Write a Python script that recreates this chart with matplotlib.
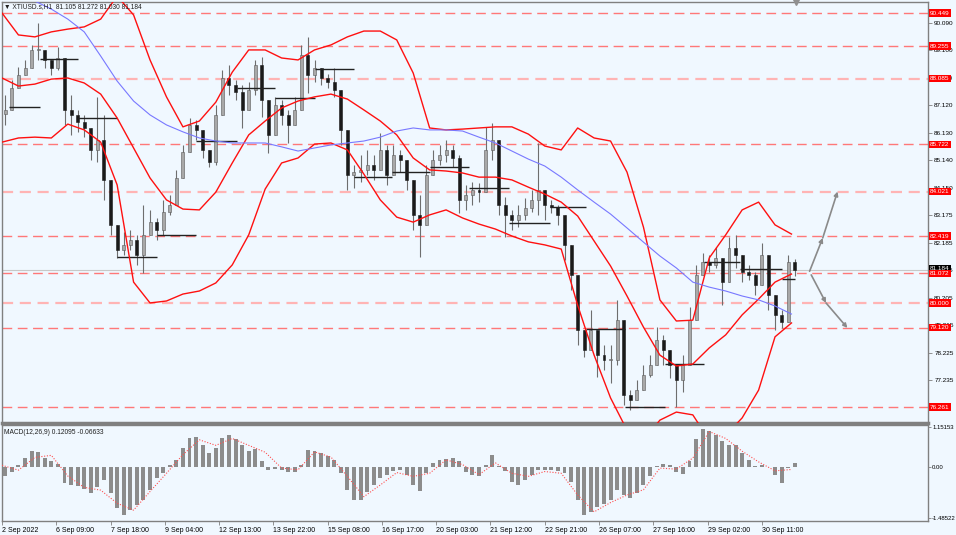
import numpy as np
import matplotlib.pyplot as plt

plt.rcParams['font.family'] = ['Liberation Sans', 'DejaVu Sans']

BG = '#f0f8ff'

# ---- price data (4 x H1 bars per candle) ----
first_open = 86.80
candle_close = [
    86.96, 87.75, 88.22, 88.47, 89.12, 89.12, 88.76, 88.47, 88.83, 86.96,
    86.78, 86.52, 86.31, 85.52, 85.88, 84.44, 82.82, 81.92, 82.10, 82.28,
    81.74, 82.46, 82.92, 82.64, 83.28, 83.54, 84.51, 85.45, 86.42, 86.24,
    85.52, 85.09, 86.78, 88.11, 87.86, 87.61, 86.96, 87.68, 88.58, 87.32,
    86.06, 87.14, 86.78, 86.42, 86.96, 88.94, 88.22, 88.47, 88.11, 87.97,
    87.68, 86.24, 84.62, 84.73, 84.80, 84.98, 84.80, 85.52, 84.62, 85.34,
    85.16, 84.44, 83.18, 82.82, 84.62, 85.16, 85.34, 85.52, 85.23, 83.72,
    83.90, 84.08, 84.01, 85.52, 85.88, 83.54, 83.18, 83.00, 83.18, 83.43,
    83.72, 84.08, 83.54, 83.46, 83.18, 82.10, 81.02, 79.04, 78.32, 79.04,
    78.14, 77.96, 77.96, 79.40, 76.69, 76.52, 76.87, 77.42, 77.78, 78.68,
    78.32, 77.78, 77.24, 77.78, 79.40, 81.02, 81.48, 81.38, 81.63, 80.76,
    81.99, 81.74, 81.12, 81.02, 80.66, 81.74, 80.30, 79.58, 79.33, 81.48,
    81.184,
]
candle_high = [
    87.50, 88.04, 88.51, 88.76, 89.30, 90.09, 89.05, 88.76, 89.23, 87.86,
    87.50, 86.96, 86.78, 86.06, 87.43, 86.78, 83.54, 82.28, 82.56, 82.64,
    82.46, 83.54, 83.36, 83.07, 83.72, 83.90, 84.80, 85.70, 86.67, 86.60,
    86.06, 85.52, 87.14, 88.40, 88.58, 88.04, 87.86, 87.97, 88.76, 88.87,
    87.32, 87.41, 87.32, 86.96, 87.43, 89.30, 89.59, 88.76, 88.40, 88.26,
    88.47, 87.68, 85.88, 84.98, 85.34, 85.52, 85.34, 86.13, 85.70, 85.70,
    85.52, 85.16, 84.44, 83.90, 84.98, 85.52, 85.70, 85.88, 85.70, 85.34,
    84.26, 84.37, 84.33, 86.35, 86.49, 85.16, 83.83, 83.36, 83.54, 83.79,
    84.08, 85.77, 84.01, 83.72, 83.54, 82.82, 81.74, 80.66, 78.93, 79.76,
    78.93, 78.50, 78.50, 80.12, 79.40, 76.87, 77.24, 77.78, 78.14, 79.14,
    78.86, 78.32, 77.78, 78.14, 79.86, 81.38, 81.81, 81.74, 82.03, 81.56,
    82.39, 82.46, 81.74, 81.38, 81.12, 82.17, 81.20, 80.30, 79.76, 81.74,
    81.60,
]
candle_low = [
    86.42, 87.14, 87.86, 88.22, 88.69, 88.76, 88.47, 88.22, 88.40, 86.42,
    86.06, 86.16, 85.98, 85.16, 85.09, 83.72, 82.46, 81.63, 81.74, 81.92,
    81.38, 81.09, 82.46, 82.28, 82.46, 83.18, 84.08, 84.98, 86.06, 85.88,
    85.23, 84.91, 84.98, 87.32, 87.50, 87.32, 86.31, 87.14, 87.50, 86.71,
    85.41, 86.42, 86.42, 85.77, 86.42, 87.32, 87.57, 87.97, 87.86, 87.75,
    87.43, 85.70, 84.08, 84.15, 84.37, 84.62, 84.44, 84.87, 84.26, 84.80,
    84.73, 84.08, 82.64, 81.66, 83.18, 84.80, 84.98, 85.09, 84.91, 83.25,
    83.36, 83.54, 83.65, 84.08, 85.16, 83.18, 82.39, 82.64, 82.75, 83.00,
    83.28, 83.18, 83.00, 83.25, 82.82, 81.56, 80.48, 78.50, 78.06, 78.50,
    77.34, 77.60, 77.13, 77.78, 76.33, 76.15, 76.59, 77.06, 77.35, 77.96,
    77.78, 77.31, 76.26, 76.80, 78.50, 80.12, 81.02, 81.12, 81.27, 79.94,
    81.38, 81.27, 80.76, 80.84, 80.30, 80.91, 79.76, 79.04, 79.12, 80.12,
    80.98,
]

# ---- indicator lines, one value every 10 H1 bars ----
bb_upper = [
    90.45, 89.66, 89.59, 89.77, 89.87, 89.95, 90.23, 91.06, 90.38, 88.76,
    87.43, 86.35, 86.56, 87.24, 88.32, 89.12, 89.12, 88.83, 88.76, 89.12,
    89.30, 89.59, 89.80, 89.80, 89.48, 88.29, 86.31, 86.24, 86.27, 86.31,
    86.35, 86.35, 86.09, 85.66, 85.52, 86.31, 85.95, 85.84, 84.72, 82.74,
    80.12, 79.36, 79.39, 81.63, 82.46, 83.36, 83.64, 82.82, 82.49,
]
bb_middle = [
    88.11, 87.82, 87.89, 88.07, 88.11, 87.93, 87.53, 86.67, 85.59, 84.51,
    83.72, 83.39, 83.36, 84.00, 85.05, 86.06, 86.56, 87.03, 87.28, 87.43,
    87.53, 87.35, 86.96, 86.56, 86.06, 85.23, 84.80, 84.76, 84.69, 84.54,
    84.54, 84.44, 84.18, 83.93, 83.64, 83.14, 82.24, 81.34, 80.26, 79.14,
    78.13, 77.74, 77.81, 78.39, 78.86, 79.58, 80.15, 80.76, 81.05,
]
bb_lower = [
    85.80, 85.95, 85.98, 85.95, 86.45, 86.24, 85.80, 84.26, 80.76, 80.01,
    80.08, 80.33, 80.44, 80.73, 81.38, 82.46, 84.11, 85.05, 85.23, 85.73,
    85.77, 85.52, 84.65, 83.72, 83.10, 82.92, 83.18, 83.36, 83.07, 82.85,
    82.67, 82.42, 82.21, 82.10, 81.95, 79.93, 78.13, 76.59, 75.43, 75.07,
    75.79, 76.08, 75.98, 75.07, 75.25, 75.87, 76.87, 78.79, 79.29,
]
ma_slow = [
    91.82, 91.35, 90.88, 90.59, 90.23, 89.77, 88.90, 88.00, 87.28, 86.78,
    86.42, 86.17, 85.95, 85.84, 85.77, 85.77, 85.77, 85.63, 85.48, 85.59,
    85.70, 85.77, 85.84, 85.98, 86.20, 86.31, 86.24, 86.24, 86.20, 85.98,
    85.77, 85.48, 85.19, 84.94, 84.54, 84.08, 83.64, 83.21, 82.71, 82.20,
    81.70, 81.27, 80.76, 80.58, 80.44, 80.26, 80.12, 79.90, 79.61,
]

# daily open levels (start bar of each day)
day_start = [4, 23, 46, 70, 94, 118, 143, 166, 190, 214, 237, 260, 284, 308,
             333, 355, 379, 403, 427, 449, 474]
day_end = 482
day_open = [87.07, 88.79, 86.67, 81.66, 82.46, 85.84, 87.75, 87.39, 88.43,
            84.54, 84.72, 84.90, 84.15, 82.89, 83.46, 79.07, 76.25, 77.81,
            81.48, 81.23, 80.87]

levels = [90.449, 89.255, 88.085, 85.722, 84.021, 82.419, 81.072, 80.000, 79.120, 76.261]
strong_levels = [88.085, 84.021, 80.000]
last_price = 81.184

price_ticks = [90.090, 89.100, 88.110, 87.120, 86.130, 85.140, 84.150, 83.175,
               82.185, 81.195, 80.205, 79.215, 78.225, 77.235]

# MACD histogram (per candle) and signal (every 10 bars)
macd_main = [
    -0.25, -0.15, 0.05, 0.26, 0.48, 0.44, 0.26, 0.17, 0.09, -0.47,
    -0.52, -0.55, -0.63, -0.76, -0.57, -0.37, -0.76, -1.20, -1.40, -1.25,
    -1.10, -0.96, -0.66, -0.32, -0.18, 0.07, 0.21, 0.56, 0.83, 0.88,
    0.65, 0.41, 0.56, 0.83, 0.93, 0.80, 0.65, 0.46, 0.53, 0.17,
    -0.08, -0.05, -0.08, -0.13, -0.15, 0.07, 0.49, 0.46, 0.41, 0.31,
    0.21, -0.18, -0.66, -0.96, -0.96, -0.71, -0.52, -0.32, -0.24, -0.11,
    -0.08, -0.22, -0.52, -0.69, -0.18, 0.12, 0.21, 0.24, 0.26, 0.17,
    -0.13, -0.22, -0.27, 0.07, 0.36, 0.02, -0.11, -0.42, -0.52, -0.37,
    -0.22, -0.08, -0.08, -0.08, -0.11, -0.18, -0.42, -0.96, -1.40, -1.30,
    -1.15, -1.08, -0.96, -0.66, -0.81, -0.91, -0.76, -0.52, -0.27, 0.02,
    0.10, 0.07, -0.15, -0.21, 0.17, 0.80, 1.09, 1.06, 0.93, 0.75,
    0.65, 0.63, 0.41, 0.21, 0.02, 0.07, -0.01, -0.22, -0.47, -0.03,
    0.12,
]
macd_signal = [
    0.05, -0.09, 0.28, 0.34, -0.26, -0.59, -0.67, -1.05, -1.25, -0.71,
    -0.18, 0.36, 0.79, 0.63, 0.83, 0.63, 0.43, -0.03, -0.08, 0.44,
    0.29, -0.27, -0.86, -0.52, -0.16, -0.27, -0.18, 0.21, 0.07, -0.22,
    0.12, -0.18, -0.27, -0.13, -0.18, -0.81, -1.30, -1.03, -0.81, -0.66,
    -0.03, -0.06, 0.26, 1.03, 0.83, 0.46, 0.15, -0.11, -0.07,
]

# scenario arrows drawn on the chart
arrow_up_bar = [491, 499, 508]
arrow_up_price = [81.15, 82.35, 84.02]
arrow_dn_bar = [492, 501, 514]
arrow_dn_price = [81.02, 80.01, 79.11]

time_labels = ['2 Sep 2022', '6 Sep 09:00', '7 Sep 18:00', '9 Sep 04:00', '12 Sep 13:00',
               '13 Sep 22:00', '15 Sep 08:00', '16 Sep 17:00', '20 Sep 03:00',
               '21 Sep 12:00', '22 Sep 21:00', '26 Sep 07:00', '27 Sep 16:00',
               '29 Sep 02:00', '30 Sep 11:00']

# ---- figure ----
fig = plt.figure(figsize=(9.56, 5.35), dpi=100, facecolor=BG)
ax = fig.add_axes([2 / 956, 112 / 535, 926 / 956, 421 / 535])
ax2 = fig.add_axes([2 / 956, 14 / 535, 926 / 956, 96 / 535], sharex=ax)

for a in (ax, ax2):
    a.set_facecolor(BG)
    for s in a.spines.values():
        s.set_color('#808080')
        s.set_linewidth(1)
ax.spines['bottom'].set_linewidth(2.5)

x = np.arange(len(candle_close)) * 4 + 2
close = np.array(candle_close)
opn = np.r_[first_open, close[:-1]]
hi = np.maximum(np.array(candle_high), np.maximum(opn, close))
lo = np.minimum(np.array(candle_low), np.minimum(opn, close))

# levels
for lv in levels:
    if lv in strong_levels:
        ax.axhline(lv, color='#ffb4b4', lw=1.6, ls=(0, (5, 3)), zorder=1)
    else:
        ax.axhline(lv, color='#ff7878', lw=1.0, ls=(0, (7, 4)), zorder=1)
ax.axhline(last_price, color='#c8c8c8', lw=0.8, zorder=1)

# candles
ax.vlines(x, lo, hi, color='#6e6e6e', lw=0.8, zorder=3)
bull = close >= opn
ax.bar(x, np.maximum(np.abs(close - opn), 0.03), bottom=np.minimum(opn, close), width=1.8,
       color=np.where(bull, '#a8a8a8', '#1a1a1a'), edgecolor=np.where(bull, '#5a5a5a', '#1a1a1a'),
       linewidth=0.4, zorder=4)

# daily open steps
ax.hlines(day_open, day_start, day_start[1:] + [day_end], color='#222222', lw=1.0, zorder=5)

# bands and slow MA
ib = np.arange(len(bb_upper)) * 10
ax.plot(ib, bb_upper, color='#ff1010', lw=1.0, zorder=6)
ax.plot(ib, bb_middle, color='#ff1010', lw=1.0, zorder=6)
ax.plot(ib, bb_lower, color='#ff1010', lw=1.0, zorder=6)
ax.plot(ib, ma_slow, color='#7878ff', lw=0.8, zorder=6)

# arrows
for bx, py in ((arrow_up_bar, arrow_up_price), (arrow_dn_bar, arrow_dn_price)):
    for i in range(len(bx) - 1):
        ax.annotate('', xy=(bx[i + 1], py[i + 1]), xytext=(bx[i], py[i]),
                    arrowprops=dict(arrowstyle='-|>', color='#8a8a8a', lw=1.2,
                                    mutation_scale=6, shrinkA=0, shrinkB=0), zorder=7)

ax.set_xlim(0, 563)
ax.set_ylim(75.687, 90.846)
ax.yaxis.tick_right()
ax.set_yticks(price_ticks, [f'{v:.3f}' for v in price_ticks])
ax.tick_params(axis='y', length=3, width=0.6, color='#808080', labelsize=4.6, pad=1.5)
ax.tick_params(axis='x', bottom=False, labelbottom=False)

ytr = ax.get_yaxis_transform()
for lv in levels:
    ax.text(1.002, lv, f'{lv:.3f}', transform=ytr, ha='left', va='center', fontsize=4.6,
            color='white', zorder=20, clip_on=False,
            bbox=dict(boxstyle='square,pad=0.2', fc='#ff0000', ec='none'))
ax.text(1.002, last_price + 0.06, f'{last_price:.3f}', transform=ytr, ha='left', va='center',
        fontsize=4.6, color='white', zorder=19, clip_on=False,
        bbox=dict(boxstyle='square,pad=0.2', fc='#000000', ec='none'))

ax.text(0.002, 0.997, '\u25bc XTIUSD.s,H1  81.105 81.272 81.030 81.184', transform=ax.transAxes,
        ha='left', va='top', fontsize=4.8, color='#202020', zorder=20)
ax.plot([483], [1.0], marker='v', ms=4, color='#909090', transform=ax.get_xaxis_transform(),
        clip_on=False, zorder=20)

# ---- MACD ----
ax2.bar(x, macd_main, width=2.4, color='#8c8c8c', linewidth=0, zorder=3)
ax2.plot(ib, macd_signal, color='#ff5050', lw=0.8, ls=(0, (1, 1.5)), zorder=4)
ax2.set_ylim(-1.565, 1.22)
ax2.yaxis.tick_right()
ax2.set_yticks([1.15153, 0.0, -1.48522], ['1.15153', '0.00', '-1.48522'])
ax2.tick_params(axis='y', length=2, width=0.6, color='#808080', labelsize=4.3, pad=1)
ax2.text(0.002, 0.96, 'MACD(12,26,9) 0.12095 -0.06633', transform=ax2.transAxes,
         ha='left', va='top', fontsize=4.8, color='#202020')

ax2.set_xticks(np.arange(len(time_labels)) * 33, time_labels, ha='left')
ax2.tick_params(axis='x', length=3, width=0.6, color='#808080', labelsize=5, pad=1.5)
ax2.set_xlim(0, 563)

fig.savefig('out.png', dpi=100, facecolor=BG)
